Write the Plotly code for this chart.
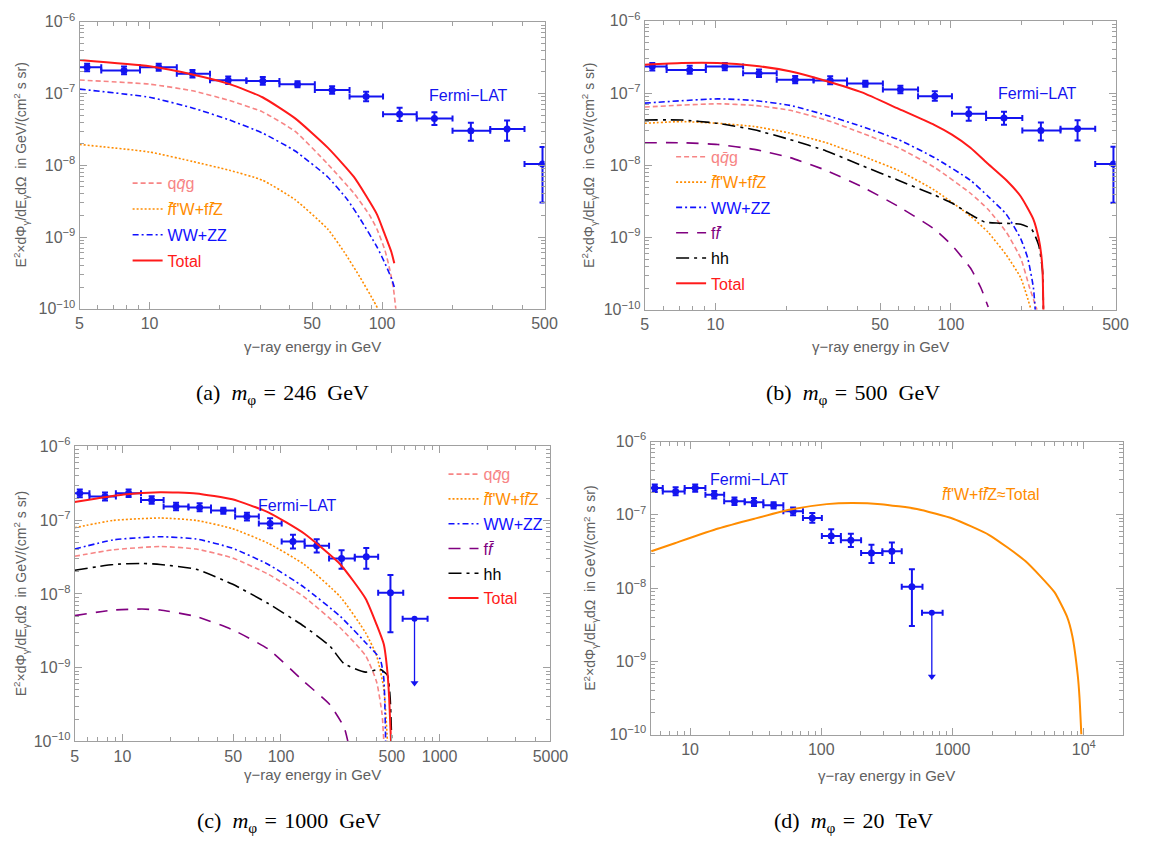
import math
import plotly.graph_objects as go

W, H = 1160, 848

# ---------------- Fermi-LAT data ----------------
fermi_E = [5.39, 7.77, 10.95, 15.3, 21.8, 30.7, 43.3, 61.0, 85.4, 119, 168, 241, 345, 490]
fermi_E_lo = [4.68, 6.2, 9.1, 13.1, 18.2, 26.1, 36.2, 51.4, 72.5, 101, 141, 201, 292, 410]
fermi_E_hi = [6.2, 9.1, 13.1, 18.2, 26.1, 36.2, 51.4, 72.5, 101, 141, 201, 292, 410, 590]
fermi_F = [2.32e-7, 2.09e-7, 2.32e-7, 1.88e-7, 1.53e-7, 1.49e-7, 1.35e-7, 1.12e-7, 9.05e-8,
           5.15e-8, 4.5e-8, 3.02e-8, 3.19e-8, 1.04e-8]
fermi_F_hi = [2.6e-7, 2.38e-7, 2.6e-7, 2.12e-7, 1.72e-7, 1.7e-7, 1.48e-7, 1.26e-7, 1.06e-7,
              6.35e-8, 5.5e-8, 3.9e-8, 4.2e-8, 1.8e-8]
fermi_F_lo = [2.05e-7, 1.85e-7, 2.07e-7, 1.67e-7, 1.36e-7, 1.32e-7, 1.22e-7, 0.99e-7, 7.8e-8,
              4.13e-8, 3.65e-8, 2.2e-8, 2.2e-8, 3.03e-9]
ul_E = [695]
ul_E_lo = [585]
ul_E_hi = [840]
ul_F = [4.6e-9]
ul_F_end = [6.2e-10]

# ---------------- (a) m = 246 GeV ----------------
a_qqg_E = [5, 10, 15.3, 22.1, 30.6, 42.3, 58.4, 75.7, 88.5, 95.1, 103, 108, 112, 114.6]
a_qqg_F = [1.54e-7, 1.35e-7, 1.09e-7, 7.98e-8, 5.55e-8, 2.96e-8, 1.04e-8, 4.07e-9, 2.0e-9,
           1.29e-9, 6.5e-10, 3.5e-10, 1.9e-10, 1.0e-10]
a_ffW_E = [5, 10, 15.3, 22.1, 30.6, 42.3, 58.4, 68.7, 80.7, 91.9, 96]
a_ffW_F = [1.95e-8, 1.53e-8, 1.13e-8, 8.5e-9, 6.2e-9, 3.31e-9, 1.29e-9, 6.2e-10, 2.7e-10,
           1.3e-10, 1.0e-10]
a_WW_E = [5, 10, 15.3, 22.1, 30.6, 42.3, 58.4, 71.0, 80.7, 95.1, 104, 110, 113.7]
a_WW_F = [1.15e-7, 8.87e-8, 6.3e-8, 4.27e-8, 2.81e-8, 1.58e-8, 6.87e-9, 3.31e-9, 1.77e-9,
          7.3e-10, 4.0e-10, 2.6e-10, 1.87e-10]
a_tot_E = [5, 10, 15.3, 22.1, 30.6, 42.3, 58.4, 75.7, 95.1, 102, 109.7, 112.9]
a_tot_F = [2.92e-7, 2.39e-7, 1.84e-7, 1.35e-7, 8.87e-8, 4.5e-8, 1.76e-8, 6.87e-9, 2.07e-9,
           1.16e-9, 6.2e-10, 4.3e-10]

# ---------------- (b) m = 500 GeV ----------------
b_qqg_E = [5, 10.2, 14.6, 20.7, 29.5, 41.9, 59.7, 84.9, 121, 144, 172, 198, 216, 232]
b_qqg_F = [6.4e-8, 7.1e-8, 6.74e-8, 5.77e-8, 4.23e-8, 2.79e-8, 1.75e-8, 9.4e-9, 4.1e-9,
           2.44e-9, 1.18e-9, 5.15e-10, 2.0e-10, 1.0e-10]
b_ffW_E = [5, 7.19, 10.2, 14.6, 20.7, 29.5, 41.9, 59.7, 84.9, 121, 144, 172, 198, 219]
b_ffW_F = [3.81e-8, 4.02e-8, 3.81e-8, 3.44e-8, 2.79e-8, 2.05e-8, 1.35e-8, 8.5e-9, 4.55e-9,
           1.98e-9, 1.18e-9, 5.7e-10, 2.76e-10, 1.0e-10]
b_WW_E = [5, 10.2, 14.6, 20.7, 29.5, 41.9, 59.7, 84.9, 121, 144, 172, 198, 212, 224, 228]
b_WW_F = [7.24e-8, 8.3e-8, 7.87e-8, 6.74e-8, 4.94e-8, 3.44e-8, 2.27e-8, 1.28e-8, 6.2e-9,
          3.7e-9, 2.09e-9, 9.6e-10, 5.15e-10, 2.02e-10, 1.0e-10]
b_ff_E = [5, 7.19, 10.2, 14.6, 20.7, 29.5, 41.9, 59.7, 84.9, 101, 121, 134, 144]
b_ff_F = [2.05e-8, 2.05e-8, 1.94e-8, 1.66e-8, 1.28e-8, 8.5e-9, 5.05e-9, 2.7e-9, 1.31e-9,
          7.8e-10, 3.78e-10, 2.02e-10, 1.09e-10]
b_hh_E = [5, 7.19, 10.2, 14.6, 20.7, 29.5, 41.9, 59.7, 84.9, 101, 121, 139, 160, 198, 220, 236, 245, 247]
b_hh_F = [4.23e-8, 4.23e-8, 3.81e-8, 3.1e-8, 2.27e-8, 1.58e-8, 9.9e-9, 6.2e-9, 3.89e-9,
          3.0e-9, 2.09e-9, 1.64e-9, 1.58e-9, 1.53e-9, 1.31e-9, 7.8e-10, 3.4e-10, 1.0e-10]
b_tot_E = [5, 7.19, 10.2, 14.6, 20.7, 29.5, 41.9, 59.7, 84.9, 101, 121, 144, 172, 198, 224, 236, 242, 245, 247]
b_tot_F = [2.46e-7, 2.6e-7, 2.6e-7, 2.39e-7, 2.0e-7, 1.47e-7, 1.02e-7, 6.08e-8, 3.62e-8,
           2.65e-8, 1.75e-8, 1.04e-8, 6.2e-9, 3.7e-9, 1.79e-9, 9.6e-10, 5.7e-10, 3.4e-10, 1.0e-10]

# ---------------- (c) m = 1000 GeV ----------------
c_qqg_E = [5, 8.75, 17.3, 29.2, 49.3, 83.2, 140, 237, 342, 401, 434, 445]
c_qqg_F = [3.24e-8, 3.97e-8, 4.4e-8, 4.06e-8, 3.08e-8, 1.85e-8, 9.1e-9, 3.45e-9, 1.45e-9,
           6.4e-10, 2.33e-10, 1.0e-10]
c_ffW_E = [5, 8.75, 17.3, 29.2, 49.3, 83.2, 140, 237, 342, 401, 445, 469]
c_ffW_F = [7.9e-8, 9.93e-8, 1.07e-7, 9.93e-8, 7.7e-8, 4.86e-8, 2.51e-8, 9.1e-9, 2.96e-9,
           1.45e-9, 5.25e-10, 1.0e-10]
c_WW_E = [5, 8.75, 17.3, 29.2, 49.3, 83.2, 140, 237, 342, 422, 445, 457]
c_WW_F = [4.06e-8, 5.4e-8, 5.97e-8, 5.56e-8, 4.18e-8, 2.51e-8, 1.23e-8, 4.93e-9, 2.18e-9,
          1.31e-9, 7.1e-10, 1.0e-10]
c_ff_E = [5, 8.75, 13.3, 17.3, 29.2, 49.3, 83.2, 140, 203, 250, 264]
c_ff_F = [5.08e-9, 6.04e-9, 6.23e-9, 6.04e-9, 4.93e-9, 3.28e-9, 1.78e-9, 6.44e-10, 3.16e-10,
          1.55e-10, 1.0e-10]
c_hh_E = [5, 8.75, 13.3, 17.3, 29.2, 49.3, 83.2, 140, 203, 250, 342, 422, 469, 488, 499]
c_hh_F = [2.09e-8, 2.51e-8, 2.59e-8, 2.51e-8, 2.16e-8, 1.36e-8, 7.4e-9, 3.63e-9, 1.97e-9,
          1.13e-9, 8.7e-10, 9.5e-10, 7.9e-10, 3.87e-10, 1.0e-10]
c_tot_E = [5, 6.74, 10.2, 17.3, 29.2, 49.3, 83.2, 140, 237, 342, 401, 445, 469, 481, 494]
c_tot_F = [1.77e-7, 1.96e-7, 2.24e-7, 2.40e-7, 2.31e-7, 1.92e-7, 1.28e-7, 6.6e-8, 2.51e-8,
           8.6e-9, 3.82e-9, 2.07e-9, 8.7e-10, 3.87e-10, 1.0e-10]

# ---------------- (d) m = 20 TeV ----------------
d_ffW_E = [5.07, 7.66, 16.4, 30.9, 58.2, 110, 171, 284, 535, 1009, 1902, 3584, 5953, 7430,
           8170, 8980, 9270, 9570]
d_ffW_F = [3.18e-8, 4.1e-8, 6.5e-8, 8.85e-8, 1.18e-7, 1.40e-7, 1.45e-7, 1.40e-7, 1.2e-7,
           8.85e-8, 5.3e-8, 2.34e-8, 8.85e-9, 4.1e-9, 2.22e-9, 6.5e-10, 3.18e-10, 1.0e-10]

# ---------------- tick labels ----------------
y_tick_vals = [1e-10, 1e-9, 1e-8, 1e-7, 1e-6]
y_tick_text = ["10<sup>\u221210</sup>", "10<sup>\u22129</sup>", "10<sup>\u22128</sup>",
               "10<sup>\u22127</sup>", "10<sup>\u22126</sup>"]
x_ab_vals = [5, 10, 50, 100, 500]
x_ab_text = ["5", "10", "50", "100", "500"]
x_c_vals = [5, 10, 50, 100, 500, 1000, 5000]
x_c_text = ["5", "10", "50", "100", "500", "1000", "5000"]
x_d_vals = [10, 100, 1000, 10000]
x_d_text = ["10", "100", "1000", "10<sup>4</sup>"]

captions = ["(a)\u2002<i>m</i><sub>\u03c6</sub>\u2004=\u2004246\u2002GeV",
            "(b)\u2002<i>m</i><sub>\u03c6</sub>\u2004=\u2004500\u2002GeV",
            "(c)\u2002<i>m</i><sub>\u03c6</sub>\u2004=\u20041000\u2002GeV",
            "(d)\u2002<i>m</i><sub>\u03c6</sub>\u2004=\u200420\u2002TeV"]

# ---------------- styles ----------------
RED = "#ff1a1a"
PINK = "#f78585"
ORANGE = "#ff8c00"
BLUE = "#1010ff"
PURPLE = "#800080"
BLACK = "#000000"
FERMI = "#1414f0"
AXC = "#a0a0a0"
TXT = "#606060"
FONT = "Liberation Sans"

QB = "q\u0304"
FB = "f\u0304"
STY = {
    "qqg": dict(color=PINK, dash="5px,3px", width=1.6, name="q<i>%s</i>g" % QB),
    "ffW": dict(color=ORANGE, dash="2px,2px", width=1.6,
                name="<i>%s</i>f'W+f<i>%s</i>Z" % (FB, FB)),
    "WW": dict(color=BLUE, dash="6px,3px,2px,3px", width=1.6, name="WW+ZZ"),
    "ff": dict(color=PURPLE, dash="12px,9px", width=1.6, name="f<i>%s</i>" % FB),
    "hh": dict(color=BLACK, dash="13px,5px,3px,5px", width=1.6, name="hh"),
    "tot": dict(color=RED, dash="solid", width=2.0, name="Total"),
    "dsolid": dict(color=ORANGE, dash="solid", width=2.0, name="f"),
}

# pixel frames of the four panels: (left, right, top, bottom)
FR = {1: (77, 551, 11, 305), 2: (653, 1133, 10, 306), 3: (72, 557, 446, 748), 4: (659, 1141, 441, 741)}
XR = {1: (5, 500), 2: (5, 500), 3: (5, 5000), 4: (5, 20000)}

fig = go.Figure()


def ax_name(i, c):
    return c if i == 1 else "%s%d" % (c, i)


def add_curve(i, key, E, F, legend):
    s = STY[key]
    fig.add_trace(go.Scatter(
        x=E, y=F, mode="lines", xaxis=ax_name(i, "x"), yaxis=ax_name(i, "y"),
        line=dict(color=s["color"], dash=s["dash"], width=s["width"], shape="spline", smoothing=0.5),
        name='<span style="color:%s">%s</span>' % (s["color"], s["name"]),
        legendgroup="%d%s" % (i, key),
        legend=legend if legend else "legend", showlegend=legend is not None))


def add_fermi(i, with_ul):
    xa, ya = ax_name(i, "x"), ax_name(i, "y")
    fig.add_trace(go.Scatter(
        x=fermi_E, y=fermi_F, mode="markers", xaxis=xa, yaxis=ya, showlegend=False,
        marker=dict(color=FERMI, size=7),
        error_y=dict(type="data", symmetric=False,
                     array=[h - v for h, v in zip(fermi_F_hi, fermi_F)],
                     arrayminus=[v - l for l, v in zip(fermi_F_lo, fermi_F)],
                     color=FERMI, thickness=2, width=3),
        error_x=dict(type="data", symmetric=False,
                     array=[h - v for h, v in zip(fermi_E_hi, fermi_E)],
                     arrayminus=[v - l for l, v in zip(fermi_E_lo, fermi_E)],
                     color=FERMI, thickness=2, width=3)))
    if with_ul:
        fig.add_trace(go.Scatter(
            x=[ul_E[0], ul_E[0]], y=[ul_F[0], ul_F_end[0]], mode="lines", xaxis=xa, yaxis=ya,
            showlegend=False, line=dict(color=FERMI, width=1.3)))
        fig.add_trace(go.Scatter(
            x=ul_E, y=ul_F_end, mode="markers", xaxis=xa, yaxis=ya, showlegend=False,
            marker=dict(color=FERMI, size=7, symbol="triangle-down")))
        fig.add_trace(go.Scatter(
            x=ul_E, y=ul_F, mode="markers", xaxis=xa, yaxis=ya, showlegend=False,
            marker=dict(color=FERMI, size=6),
            error_x=dict(type="data", symmetric=False,
                         array=[h - v for h, v in zip(ul_E_hi, ul_E)],
                         arrayminus=[v - l for l, v in zip(ul_E_lo, ul_E)],
                         color=FERMI, thickness=2, width=3)))


# panel a
add_fermi(1, False)
add_curve(1, "qqg", a_qqg_E, a_qqg_F, "legend")
add_curve(1, "ffW", a_ffW_E, a_ffW_F, "legend")
add_curve(1, "WW", a_WW_E, a_WW_F, "legend")
add_curve(1, "tot", a_tot_E, a_tot_F, "legend")
# panel b
add_fermi(2, False)
add_curve(2, "qqg", b_qqg_E, b_qqg_F, "legend2")
add_curve(2, "ffW", b_ffW_E, b_ffW_F, "legend2")
add_curve(2, "WW", b_WW_E, b_WW_F, "legend2")
add_curve(2, "ff", b_ff_E, b_ff_F, "legend2")
add_curve(2, "hh", b_hh_E, b_hh_F, "legend2")
add_curve(2, "tot", b_tot_E, b_tot_F, "legend2")
# panel c
add_fermi(3, True)
add_curve(3, "qqg", c_qqg_E, c_qqg_F, "legend3")
add_curve(3, "ffW", c_ffW_E, c_ffW_F, "legend3")
add_curve(3, "WW", c_WW_E, c_WW_F, "legend3")
add_curve(3, "ff", c_ff_E, c_ff_F, "legend3")
add_curve(3, "hh", c_hh_E, c_hh_F, "legend3")
add_curve(3, "tot", c_tot_E, c_tot_F, "legend3")
# panel d
add_fermi(4, True)
add_curve(4, "dsolid", d_ffW_E, d_ffW_F, None)


def minor_vals(lo, hi, majors):
    out = []
    d = 10 ** math.floor(math.log10(lo))
    while d <= hi:
        for m in range(1, 10):
            v = m * d
            if lo <= v <= hi and all(abs(v - M) / M > 1e-9 for M in majors):
                out.append(v)
        d *= 10
    return out


xticks = {1: (x_ab_vals, x_ab_text), 2: (x_ab_vals, x_ab_text), 3: (x_c_vals, x_c_text),
          4: (x_d_vals, x_d_text)}

layout = dict(width=W, height=H, margin=dict(l=0, r=0, t=0, b=0),
              paper_bgcolor="white", plot_bgcolor="white",
              font=dict(family=FONT, color=TXT, size=16))
for i in range(1, 5):
    l, r, t, b = FR[i]
    xv, xt = xticks[i]
    x0, x1 = XR[i]
    common = dict(type="log", showgrid=False, zeroline=False, showline=True, linecolor=AXC,
                  linewidth=1, mirror="ticks", ticks="inside", ticklen=7, tickcolor=AXC,
                  tickwidth=1, tickfont=dict(family=FONT, size=16, color=TXT))
    xa = dict(common, domain=[l / W, r / W], range=[math.log10(x0), math.log10(x1)],
              tickmode="array", tickvals=xv, ticktext=xt,
              anchor=ax_name(i, "y"),
              minor=dict(ticks="inside", ticklen=4, tickcolor=AXC, tickmode="array",
                         tickvals=minor_vals(x0, x1, xv)))
    ya = dict(common, domain=[1 - b / H, 1 - t / H], range=[-10, -6],
              tickmode="array", tickvals=y_tick_vals, ticktext=y_tick_text,
              anchor=ax_name(i, "x"),
              minor=dict(ticks="inside", ticklen=4, tickcolor=AXC, tickmode="array",
                         tickvals=minor_vals(1e-10, 1e-6, y_tick_vals)))
    layout["xaxis" if i == 1 else "xaxis%d" % i] = xa
    layout["yaxis" if i == 1 else "yaxis%d" % i] = ya

leg_common = dict(bgcolor="rgba(0,0,0,0)", borderwidth=0, font=dict(family=FONT, size=16),
                  xanchor="left", yanchor="top", itemclick=False)
layout["legend"] = dict(leg_common, x=126 / W, y=1 - 159 / H, tracegroupgap=2)
layout["legend2"] = dict(leg_common, x=680 / W, y=1 - 132 / H, tracegroupgap=1.5)
layout["legend3"] = dict(leg_common, x=448 / W, y=1 - 457 / H, tracegroupgap=1)
fig.update_layout(**layout)

ann = []
ytitle = ("E<sup>2</sup>\u00d7d\u03a6<sub>\u03b3</sub>/dE<sub>\u03b3</sub>d\u03a9\u00a0\u00a0in "
          "GeV/(cm<sup>2</sup> s sr)")
ytitle_x = {1: 17.5, 2: 597, 3: 17.7, 4: 598}
xtitle_y = {1: 344, 2: 344, 3: 782, 4: 783}
cap_pos = {1: (284, 392), 2: (865, 392), 3: (290, 831), 4: (866, 831)}
for i in range(1, 5):
    l, r, t, b = FR[i]
    ann.append(dict(text=ytitle, textangle=-90, xref="paper", yref="paper",
                    x=ytitle_x[i] / W, y=1 - (t + b) / 2 / H, showarrow=False,
                    font=dict(family=FONT, size=14, color=TXT), xanchor="center", yanchor="middle"))
    ann.append(dict(text="\u03b3\u2212ray energy in GeV", xref="paper", yref="paper",
                    x=(l + r) / 2 / W, y=1 - xtitle_y[i] / H, showarrow=False,
                    font=dict(family=FONT, size=15, color=TXT), xanchor="center", yanchor="middle"))
    cx, cy = cap_pos[i]
    ann.append(dict(text=captions[i - 1], xref="paper", yref="paper", x=cx / W, y=1 - cy / H,
                    showarrow=False, font=dict(family="Liberation Serif", size=22, color="black"),
                    xanchor="center", yanchor="middle"))

fermi_lab = {1: (236, 9.5e-8, "center"), 2: (233, 1.0e-7, "center"), 3: (127, 1.56e-7, "center"),
             4: (13.7, 3.0e-7, "left")}
for i, (ex, fy, xa_) in fermi_lab.items():
    ann.append(dict(text="Fermi\u2212LAT", xref=ax_name(i, "x"), yref=ax_name(i, "y"),
                    x=math.log10(ex), y=math.log10(fy), showarrow=False, xanchor=xa_,
                    yanchor="middle", font=dict(family=FONT, size=16, color=FERMI)))
ann.append(dict(text="<i>%s</i>f'W+f<i>%s</i>Z\u2248Total" % (FB, FB), xref="x4", yref="y4",
                x=math.log10(800), y=math.log10(1.87e-7), showarrow=False, xanchor="left",
                yanchor="middle", font=dict(family=FONT, size=16, color=ORANGE)))
fig.update_layout(annotations=ann)

fig.write_html("out.html", config={"displayModeBar": False},
               post_script="document.body.style.margin='0px';")
